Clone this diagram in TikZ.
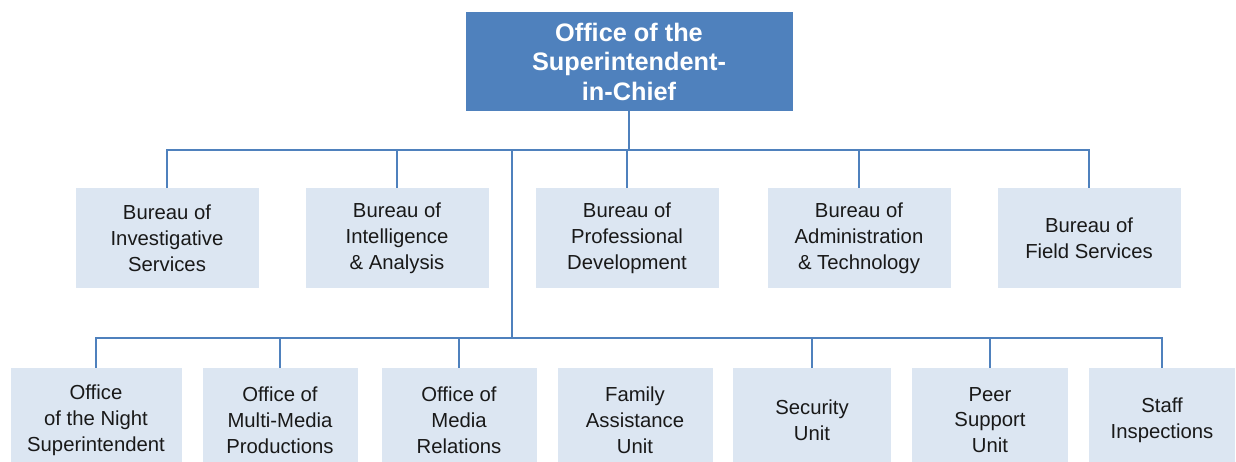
\documentclass[tikz,border=0pt]{standalone}
\usepackage{fontspec}
\setmainfont{Liberation Sans}
\definecolor{chiefblue}{HTML}{4F81BD}
\definecolor{unitfill}{HTML}{DCE6F2}
\definecolor{linkblue}{HTML}{4F81BD}
\begin{document}
\begin{tikzpicture}[x=1pt,y=-1pt,
  chief/.style={fill=chiefblue, draw=none, inner sep=0pt, align=center,
    text=white, minimum width=327pt, minimum height=99pt,
    font=\fontsize{25.3}{29.5}\selectfont\bfseries},
  bureau/.style={fill=unitfill, draw=none, inner sep=0pt, align=center,
    text=black!90, minimum width=183pt, minimum height=100pt,
    font=\fontsize{20.3}{25.8}\selectfont},
  unit/.style={fill=unitfill, draw=none, inner sep=0pt, align=center,
    text=black!90, minimum height=104pt,
    font=\fontsize{20.3}{25.8}\selectfont},
  link/.style={draw=linkblue, line width=2pt}]
\useasboundingbox (0,0) rectangle (1236,462);

% head office
\node[chief] (top) at (629,61.5) {Office of the\\Superintendent-\\in-Chief};

% bureaus
\node[bureau] (b1) at (167,238) {Bureau of\\Investigative\\Services};
\node[bureau] (b2) at (397,238) {Bureau of\\Intelligence\\\& Analysis};
\node[bureau] (b3) at (627,238) {Bureau of\\Professional\\Development};
\node[bureau] (b4) at (859,238) {Bureau of\\Administration\\\& Technology};
\node[bureau] (b5) at (1089,238) {Bureau of\\Field Services};

% units reporting directly (boxes run past the lower edge)
\node[unit, minimum width=171pt] (c1) at (96,420) {Office\\of the Night\\Superintendent};
\node[unit, minimum width=155pt] (c2) at (280,420) {Office of\\Multi-Media\\Productions};
\node[unit, minimum width=155pt] (c3) at (459,420) {Office of\\Media\\Relations};
\node[unit, minimum width=155pt] (c4) at (635,420) {Family\\Assistance\\Unit};
\node[unit, minimum width=158pt] (c5) at (812,420) {Security\\Unit};
\node[unit, minimum width=156pt] (c6) at (990,420) {Peer\\Support\\Unit};
\node[unit, minimum width=146pt] (c7) at (1162,420) {Staff\\Inspections};

% bus lines
\coordinate (bus1) at (0,150);
\coordinate (branch) at (512,150);
\coordinate (bus2) at (512,338);

\draw[link] (top.south) -- (top.south |- bus1);
\draw[link] (b1.north) -- (b1.north |- bus1) -- (b5.north |- bus1) -- (b5.north);
\foreach \n in {b2,b3,b4}
  \draw[link] (\n.north) -- (\n.north |- bus1);

\draw[link] (branch) -- (bus2);
\draw[link] (c1.north) -- (c1.north |- bus2) -- (c7.north |- bus2) -- (c7.north);
\foreach \n in {c2,c3,c5,c6}
  \draw[link] (\n.north) -- (\n.north |- bus2);
\end{tikzpicture}
\end{document}
